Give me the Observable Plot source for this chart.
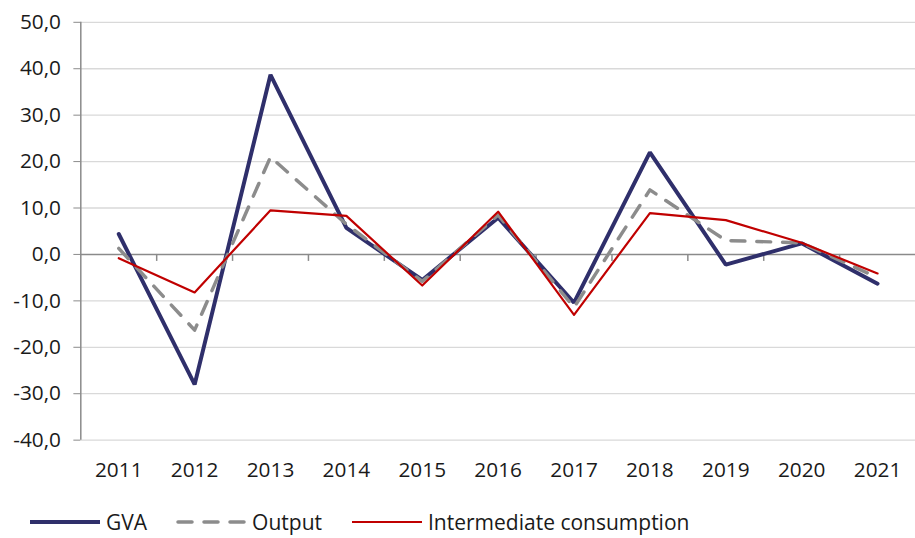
<!DOCTYPE html>
<html>
<head>
<meta charset="utf-8">
<script src="https://cdn.jsdelivr.net/npm/d3@7"></script>
<script src="https://cdn.jsdelivr.net/npm/@observablehq/plot@0.6"></script>
<style>
  html, body { margin: 0; padding: 0; background: #fff; overflow: hidden; width: 915px; height: 538px; }
  #chart { position: absolute; left: 0; top: 0; }
  #legend { position: absolute; left: 30px; top: 512px; display: flex; align-items: center;
            font-family: "Open Sans", sans-serif; font-size: 21px; color: #1a1a1a; line-height: 20px; white-space: nowrap; }
  .item { display: flex; align-items: center; }
  .item svg { display: block; margin-right: 6px; }
</style>
</head>
<body>
<div id="chart"></div>
<div id="legend"></div>
<script>
const years = [2011, 2012, 2013, 2014, 2015, 2016, 2017, 2018, 2019, 2020, 2021];
const gva = [4.4, -28.0, 38.7, 5.7, -5.5, 7.9, -10.4, 22.0, -2.2, 2.4, -6.3];
const output = [1.3, -16.3, 21.0, 6.5, -5.8, 8.5, -11.4, 13.9, 3.0, 2.5, -5.0];
const intermediate = [-0.8, -8.2, 9.5, 8.3, -6.7, 9.2, -13.0, 8.9, 7.4, 2.5, -4.1];
const yTicks = [-40, -30, -20, -10, 0, 10, 20, 30, 40, 50];
const seriesNames = ["GVA", "Output", "Intermediate consumption"];

const colors = { GVA: "#2f2f6b", Output: "#8c8c8c", "Intermediate consumption": "#c00000" };
const toRows = (vals) => years.map((year, i) => ({ year, value: vals[i] }));
const boundaries = years.slice(0, -1).map(y => y + 0.5);
const fmt = d => d3.format(".1f")(d).replace(".", ",").replace("\u2212", "-");
const axisGrey = "#8a8a8a";

const chart = Plot.plot({
  width: 923,
  height: 500,
  marginLeft: 81,
  marginRight: 0,
  marginTop: 22,
  marginBottom: 56.5,
  style: { fontFamily: "'Open Sans', sans-serif", fontSize: "21px", color: "#1a1a1a", background: "#fff" },
  x: { domain: [years[0] - 0.5, years[years.length - 1] + 0.5] },
  y: { domain: [yTicks[0], yTicks[yTicks.length - 1]] },
  marks: [
    Plot.ruleY(yTicks.filter(d => d !== 0), { stroke: "#d9d9d9", strokeWidth: 1.3 }),
    Plot.ruleX([years[0] - 0.5], { y1: yTicks[0], y2: yTicks[yTicks.length - 1], stroke: axisGrey, strokeWidth: 1.5 }),
    Plot.ruleY([0], { stroke: axisGrey, strokeWidth: 1.5 }),
    Plot.ruleX(boundaries, { y1: 0, y2: -1.5, stroke: axisGrey, strokeWidth: 1.5 }),
    Plot.axisY(yTicks, { tickSize: 7, tickPadding: 13, tickFormat: fmt, stroke: axisGrey, label: null, fontSize: 21, fill: "#1a1a1a" }),
    Plot.axisX(years, { tickSize: 0, tickPadding: 22, tickFormat: d => String(d), label: null, fontSize: 21, fill: "#1a1a1a" }),
    Plot.line(toRows(gva), { x: "year", y: "value", stroke: colors.GVA, strokeWidth: 4, strokeLinejoin: "miter" }),
    Plot.line(toRows(output), { x: "year", y: "value", stroke: colors.Output, strokeWidth: 3.5, strokeDasharray: "14,12", strokeLinecap: "round" }),
    Plot.line(toRows(intermediate), { x: "year", y: "value", stroke: colors["Intermediate consumption"], strokeWidth: 2.2 })
  ]
});
document.getElementById("chart").appendChild(chart);

const legend = document.getElementById("legend");
const swatchStyles = {
  GVA: { w: 4, dash: null, cap: "butt" },
  Output: { w: 3.5, dash: "14,12", cap: "round" },
  "Intermediate consumption": { w: 2.2, dash: null, cap: "butt" }
};
const gaps = [29, 30, 0];
seriesNames.forEach((name, i) => {
  const s = swatchStyles[name];
  const item = document.createElement("div");
  item.className = "item";
  item.style.marginRight = gaps[i] + "px";
  item.innerHTML = `<svg width="70" height="12"><line x1="${s.cap === "round" ? 2 : 0}" y1="6" x2="${s.cap === "round" ? 68 : 70}" y2="6" stroke="${colors[name]}" stroke-width="${s.w}" ${s.dash ? `stroke-dasharray="${s.dash}"` : ""} stroke-linecap="${s.cap}"/></svg><span>${name}</span>`;
  legend.appendChild(item);
});
</script>
</body>
</html>
